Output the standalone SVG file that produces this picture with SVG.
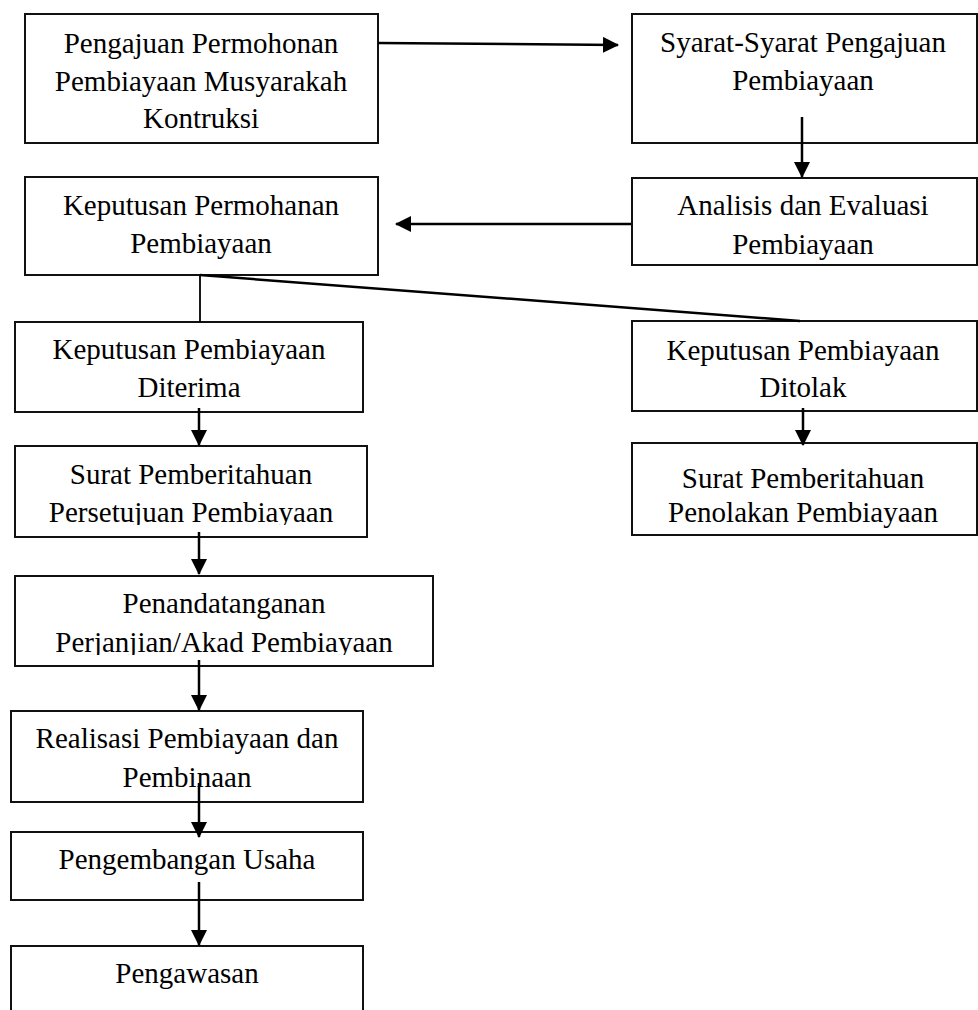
<svg xmlns="http://www.w3.org/2000/svg" width="978" height="1010" viewBox="0 0 978 1010">
<style>
.box{fill:#fff;stroke:#111;stroke-width:2}
.t{font-family:"Liberation Serif","Times New Roman",serif;font-size:29px;fill:#000;text-anchor:middle}
.c{stroke:#000;stroke-width:2.5;fill:none}
</style>
<defs>
<marker id="ah" markerUnits="userSpaceOnUse" markerWidth="16" markerHeight="16" viewBox="0 0 16 16" refX="15" refY="8" orient="auto">
<path d="M0,0 L16,8 L0,16 Z" fill="#000"/>
</marker>
<clipPath id="clipA"><rect x="631" y="178" width="347" height="85"/></clipPath>
<clipPath id="clipP"><rect x="15" y="446" width="352" height="79"/></clipPath>
<clipPath id="clipT"><rect x="15" y="576" width="418" height="79"/></clipPath>
</defs>
<rect width="978" height="1010" fill="#fff"/>
<g id="n1"><rect class="box" x="25" y="14" width="353" height="129"/>
<text class="t" x="201" y="53">Pengajuan Permohonan</text>
<text class="t" x="201" y="91">Pembiayaan Musyarakah</text>
<text class="t" x="201" y="128">Kontruksi</text></g>
<g id="n2"><rect class="box" x="632" y="14" width="345" height="129"/>
<text class="t" x="803" y="52">Syarat-Syarat Pengajuan</text>
<text class="t" x="803" y="90">Pembiayaan</text></g>
<g id="n3"><rect class="box" x="632" y="178" width="345" height="87"/>
<text class="t" x="803" y="215">Analisis dan Evaluasi</text>
<text class="t" x="803" y="254" clip-path="url(#clipA)">Pembiayaan</text></g>
<g id="n4"><rect class="box" x="25" y="177" width="353" height="98"/>
<text class="t" x="201" y="215">Keputusan Permohanan</text>
<text class="t" x="201" y="253">Pembiayaan</text></g>
<g id="n5"><rect class="box" x="15" y="322" width="348" height="90"/>
<text class="t" x="189" y="359">Keputusan Pembiayaan</text>
<text class="t" x="189" y="397">Diterima</text></g>
<g id="n6"><rect class="box" x="632" y="321" width="345" height="90"/>
<text class="t" x="803" y="360">Keputusan Pembiayaan</text>
<text class="t" x="803" y="397">Ditolak</text></g>
<g id="n7"><rect class="box" x="15" y="446" width="352" height="91"/>
<text class="t" x="191" y="484">Surat Pemberitahuan</text>
<text class="t" x="191" y="522" clip-path="url(#clipP)">Persetujuan Pembiayaan</text></g>
<g id="n8"><rect class="box" x="632" y="443" width="345" height="92"/>
<text class="t" x="803" y="488">Surat Pemberitahuan</text>
<text class="t" x="803" y="522">Penolakan Pembiayaan</text></g>
<g id="n9"><rect class="box" x="15" y="576" width="418" height="90"/>
<text class="t" x="224" y="613">Penandatanganan</text>
<text class="t" x="224" y="652" clip-path="url(#clipT)">Perjanjian/Akad Pembiayaan</text></g>
<g id="n10"><rect class="box" x="11" y="711" width="352" height="91"/>
<text class="t" x="187" y="748">Realisasi Pembiayaan dan</text>
<text class="t" x="187" y="787">Pembinaan</text></g>
<g id="n11"><rect class="box" x="11" y="832" width="352" height="68"/>
<text class="t" x="187" y="869">Pengembangan Usaha</text></g>
<g id="n12"><rect class="box" x="11" y="946" width="352" height="80"/>
<text class="t" x="187" y="983">Pengawasan</text></g>
<g id="connectors">
<line class="c" x1="378" y1="43" x2="618" y2="45" marker-end="url(#ah)"/>
<line class="c" x1="802" y1="117" x2="802" y2="177" marker-end="url(#ah)"/>
<line class="c" x1="631" y1="224" x2="396" y2="224" marker-end="url(#ah)"/>
<line class="c" x1="200" y1="275" x2="200" y2="322" style="stroke-width:1.8"/>
<line class="c" x1="200" y1="275" x2="800" y2="321"/>
<line class="c" x1="199" y1="408" x2="199" y2="445" marker-end="url(#ah)"/>
<line class="c" x1="803" y1="408" x2="803" y2="445" marker-end="url(#ah)"/>
<line class="c" x1="199" y1="532" x2="199" y2="574" marker-end="url(#ah)"/>
<line class="c" x1="199" y1="660" x2="199" y2="710" marker-end="url(#ah)"/>
<line class="c" x1="199" y1="783" x2="199" y2="837" marker-end="url(#ah)"/>
<line class="c" x1="199" y1="882" x2="199" y2="945" marker-end="url(#ah)"/>
</g>
</svg>
